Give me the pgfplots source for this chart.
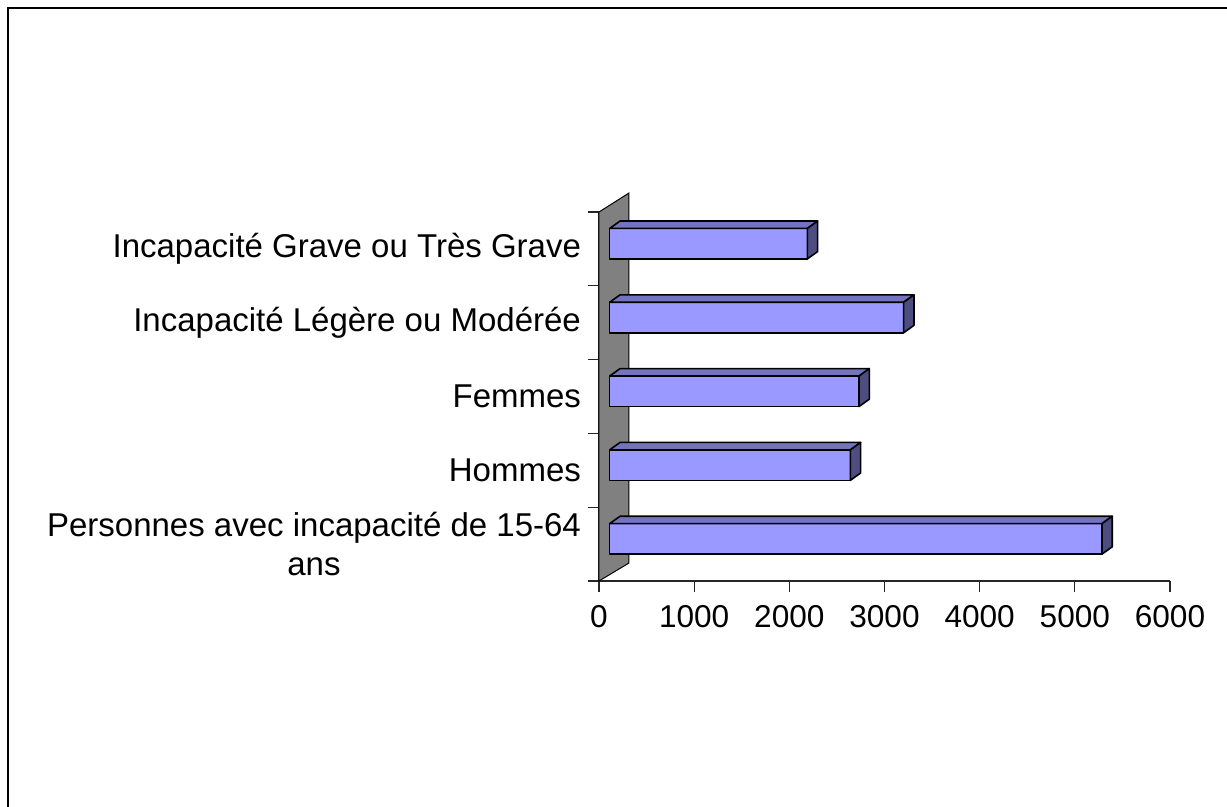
\documentclass[border=0pt]{standalone}
\usepackage{pgfplots}
\pgfplotsset{compat=1.18}
\usepackage{pgfplotstable}
\usepackage{fontspec}
\setmainfont{Liberation Sans}
\definecolor{barfront}{HTML}{9999FF}
\definecolor{bartop}{HTML}{7373C0}
\definecolor{barside}{HTML}{4D4D80}
\definecolor{wallgray}{HTML}{808080}

\pgfplotstableread{
pos val
0.5 5173
1.5 2529
2.5 2620
3.5 3089
4.5 2077
}\datatable

\newcommand\ux{0.0475833}
\pgfdeclareplotmark{bar3d}{%
  \pgfkeys{/pgf/fpu=true,/pgf/fpu/output format=fixed}%
  \pgfmathparse{\val*\ux}\let\barLnum\pgfmathresult
  \pgfkeys{/pgf/fpu=false}%
  \pgfmathsetlengthmacro\barR{5.35pt}%
  \pgfmathsetlengthmacro\barLft{5.35pt-\barLnum pt}%
  \pgfmathsetlengthmacro\barT{10.225pt}%
  \pgfmathsetlengthmacro\barB{-5.025pt}%
  \pgfmathsetlengthmacro\barLftD{\barLft+5.15pt}%
  \pgfmathsetlengthmacro\barRD{\barR+5.15pt}%
  \pgfmathsetlengthmacro\barTD{\barT+3.7pt}%
  \pgfmathsetlengthmacro\barBD{\barB+3.7pt}%
  \pgfsetlinewidth{0.8pt}\pgfsetstrokecolor{black}\pgfsetroundjoin
  % front
  \pgfsetfillcolor{barfront}%
  \pgfpathrectanglecorners{\pgfpoint{\barLft}{\barB}}{\pgfpoint{\barR}{\barT}}%
  \pgfusepath{fill,stroke}%
  % top
  \pgfsetfillcolor{bartop}%
  \pgfpathmoveto{\pgfpoint{\barLft}{\barT}}%
  \pgfpathlineto{\pgfpoint{\barLftD}{\barTD}}%
  \pgfpathlineto{\pgfpoint{\barRD}{\barTD}}%
  \pgfpathlineto{\pgfpoint{\barR}{\barT}}%
  \pgfpathclose
  \pgfusepath{fill,stroke}%
  % side
  \pgfsetfillcolor{barside}%
  \pgfpathmoveto{\pgfpoint{\barR}{\barB}}%
  \pgfpathlineto{\pgfpoint{\barR}{\barT}}%
  \pgfpathlineto{\pgfpoint{\barRD}{\barTD}}%
  \pgfpathlineto{\pgfpoint{\barRD}{\barBD}}%
  \pgfpathclose
  \pgfusepath{fill,stroke}%
}

\begin{document}
\begin{tikzpicture}
\useasboundingbox (0,0) rectangle (613.5pt,403.5pt);
\fill[white] (0,0) rectangle (613.5pt,403.5pt);
\draw[line width=0.9pt] (4pt,0) -- (4pt,399.5pt) -- (613.5pt,399.5pt);
\begin{axis}[
  at={(299.5pt,113pt)}, anchor=south west,
  scale only axis, width=285.5pt, height=184.5pt,
  xmin=0, xmax=6000, ymin=0, ymax=5,
  axis x line*=bottom, axis y line*=left,
  axis line style={black!85, line width=0.6pt},
  tick align=outside, major tick length=5.5pt,
  tick style={black!85, line width=0.6pt},
  xtick={0,1000,...,6000},
  scaled x ticks=false,
  /pgf/number format/1000 sep={},
  /pgf/number format/assume math mode=true,
  xticklabel style={font=\fontsize{15.8}{18}\selectfont, yshift=-3.2pt},
  ytick={0,1,2,3,4,5}, yticklabels={},
  extra y ticks={0.5,1.5,2.5,3.5,4.5},
  extra y tick labels={{Personnes avec incapacité de 15-64\\ans},Hommes,Femmes,{Incapacité Légère ou Modérée},{Incapacité Grave ou Très Grave}},
  extra y tick style={tick style={draw=none}},
  yticklabel style={font=\fontsize{16.5}{19.75}\selectfont, align=center},
  clip=false,
]
\filldraw[fill=wallgray, draw=black, line width=0.5pt] (axis cs:0,0) -- ([shift={(15pt,9pt)}]axis cs:0,0) -- ([shift={(15pt,9.5pt)}]axis cs:0,5) -- (axis cs:0,5) -- cycle;
\addplot[only marks, mark=bar3d, visualization depends on={rawx \as \val}] table[x=val,y=pos]{\datatable};
\end{axis}
\end{tikzpicture}
\end{document}
